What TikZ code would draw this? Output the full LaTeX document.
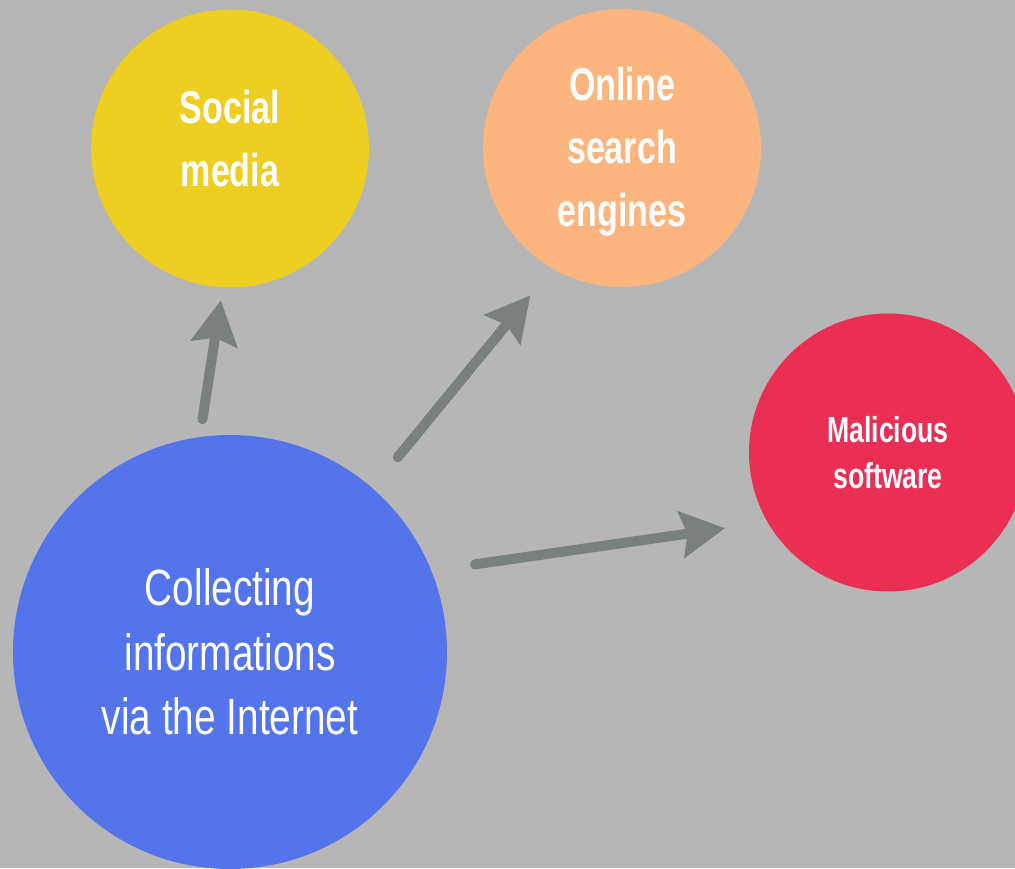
\documentclass[tikz,border=0pt]{standalone}
\usepackage{fontspec}
\usepackage{tikz}
\usetikzlibrary{arrows.meta}
\newfontfamily\boldface[FakeStretch=0.74]{Liberation Sans}
\newfontfamily\thinface[FakeStretch=0.76]{Liberation Sans}
\definecolor{bgc}{HTML}{B6B6B6}
\definecolor{bluec}{HTML}{5374EA}
\definecolor{yellowc}{HTML}{EECE20}
\definecolor{orangec}{HTML}{FDB580}
\definecolor{redc}{HTML}{EB2E53}
\definecolor{arrowc}{HTML}{7A7F80}

\begin{document}
\begin{tikzpicture}[x=1pt,y=-1pt,
    ball/.style={circle,inner sep=0pt,text=white,align=center,minimum size=278pt},
    link/.style={-{Stealth[length=44pt,width=46pt,inset=6pt]},line width=10pt,line cap=round,draw=arrowc}]
    \fill[bgc] (0,0) rectangle (1015,868);
    \clip (0,0) rectangle (1015,868);

    \node[ball,fill=yellowc,font=\boldface\bfseries\fontsize{46}{63}\selectfont] (social) at (230,148.5) {Social\\media\rule[-20pt]{0pt}{0pt}};
    \node[ball,fill=orangec,font=\boldface\bfseries\fontsize{46}{63}\selectfont] (search) at (622,148) {\rule{0pt}{41pt}Online\\search\\engines};
    \node[ball,fill=redc,font=\boldface\bfseries\fontsize{36}{46}\selectfont] (malware) at (888,452.5) {Malicious\\software};
    \node[ball,fill=bluec,minimum size=434pt,font=\thinface\fontsize{51}{64.5}\selectfont] (main) at (230,652) {Collecting\\informations\\via the Internet};

    \draw[link,shorten <=17.85pt,shorten >=12.8pt] (main.98.8) -- (social.267.7);
    \draw[link,shorten <=39.85pt,shorten >=34.75pt] (main.49.7) -- (search.240.9);
    \draw[link,shorten <=44pt,shorten >=42.8pt] (main.22.5) -- (malware.210.6);
\end{tikzpicture}
\end{document}
